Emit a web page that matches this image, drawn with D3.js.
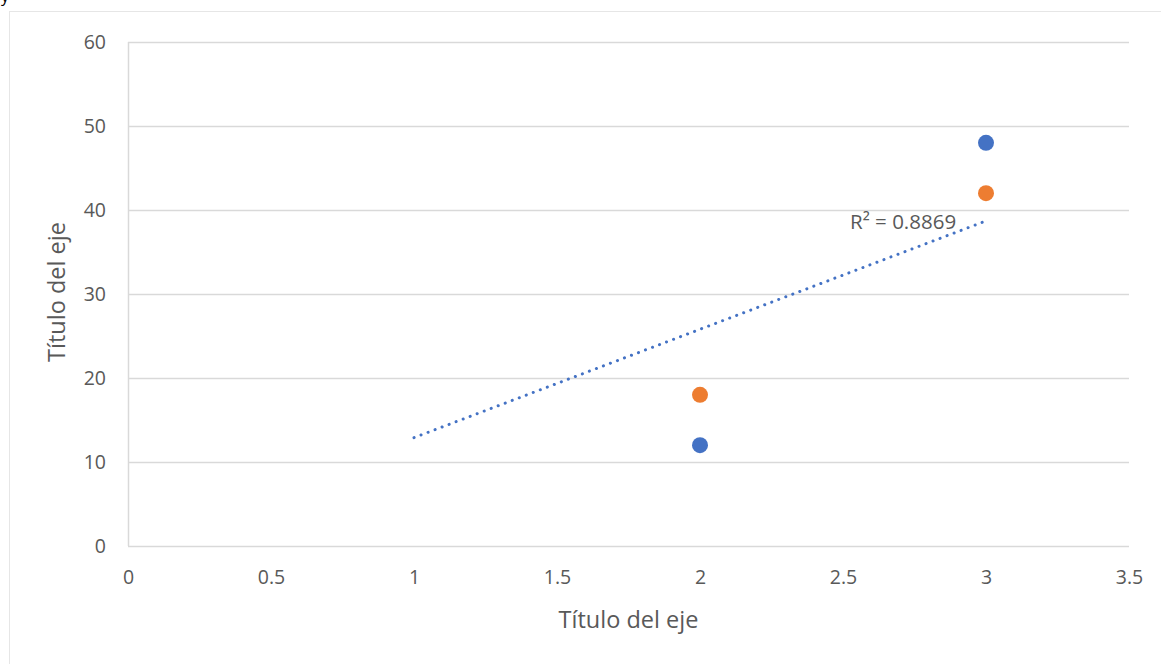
<!DOCTYPE html>
<html><head><meta charset="utf-8">
<script src="https://cdn.jsdelivr.net/npm/d3@7"></script>
<style>
html,body{margin:0;padding:0;background:#fff;}
text{font-family:"Open Sans",Calibri,sans-serif;}
</style></head>
<body>
<svg id="c" width="1161" height="664"></svg>
<script>
const seriesNames = ["Serie 1", "Serie 2"];
const seriesColors = ["#4472C4", "#ED7D31"];
const series1 = [{x: 2, y: 12}, {x: 3, y: 48}];
const series2 = [{x: 2, y: 18}, {x: 3, y: 42}];
const trendX = [1, 3];
const trendY = [12.9, 38.7];
const trendLabel = "R² = 0.8869";
const xTicks = [0, 0.5, 1, 1.5, 2, 2.5, 3, 3.5];
const yTicks = [0, 10, 20, 30, 40, 50, 60];
const xTitle = "Título del eje";
const yTitle = "Título del eje";

const svg = d3.select("#c");
svg.append("rect").attr("x", 9.5).attr("y", 11.5).attr("width", 1160).attr("height", 700)
  .attr("fill", "#fff").attr("stroke", "#e6e6e6");
svg.append("text").attr("x", 1).attr("y", 2).attr("font-size", 16).attr("fill", "#000")
  .text("y");

const x = d3.scaleLinear().domain([0, 3.5]).range([128, 1129]);
const y = d3.scaleLinear().domain([0, 60]).range([546, 42]);

// gridlines
svg.append("g").selectAll("line").data(yTicks).join("line")
  .attr("x1", x(0)).attr("x2", x(3.5))
  .attr("y1", d => Math.round(y(d)) + 0.5).attr("y2", d => Math.round(y(d)) + 0.5)
  .attr("stroke", "#d9d9d9").attr("stroke-width", 1.5);
svg.append("line").attr("x1", x(0) + 0.5).attr("x2", x(0) + 0.5).attr("y1", y(60)).attr("y2", y(0))
  .attr("stroke", "#d9d9d9").attr("stroke-width", 1.5);

// axes labels via d3 axes
const yAxis = svg.append("g").attr("transform", `translate(${x(0)},0)`)
  .call(d3.axisLeft(y).tickValues(yTicks).tickSize(0).tickPadding(22).tickFormat(d3.format("")));
const xAxis = svg.append("g").attr("transform", `translate(0,${y(0)})`)
  .call(d3.axisBottom(x).tickValues(xTicks).tickSize(0).tickPadding(24).tickFormat(d => String(d)));
[yAxis, xAxis].forEach(a => {
  a.select(".domain").remove();
  a.selectAll("text").attr("font-size", 19.5).attr("fill", "#595959").attr("font-family", "Open Sans");
});

// trendline
const tl = trendX.map((v, i) => ({x: v, y: trendY[i]}));
svg.append("path").datum(tl)
  .attr("d", d3.line().x(d => x(d.x)).y(d => y(d.y)))
  .attr("stroke", seriesColors[0]).attr("stroke-width", 3)
  .attr("stroke-linecap", "round").attr("stroke-dasharray", "0.1 7.4").attr("fill", "none");

svg.append("text").attr("x", 850).attr("y", 229)
  .attr("font-size", 20.5).attr("fill", "#595959").text(trendLabel);

// points
[series1, series2].forEach((s, i) => {
  svg.append("g").selectAll("circle").data(s).join("circle")
    .attr("cx", d => x(d.x)).attr("cy", d => y(d.y)).attr("r", 8)
    .attr("fill", seriesColors[i]);
});

// titles
svg.append("text").attr("x", x(1.75)).attr("y", 628).attr("text-anchor", "middle")
  .attr("font-size", 23.5).attr("fill", "#595959").text(xTitle);
svg.append("text").attr("transform", `translate(65,${y(30) - 2}) rotate(-90)`).attr("text-anchor", "middle")
  .attr("font-size", 23.5).attr("fill", "#595959").text(yTitle);
</script>
</body></html>
